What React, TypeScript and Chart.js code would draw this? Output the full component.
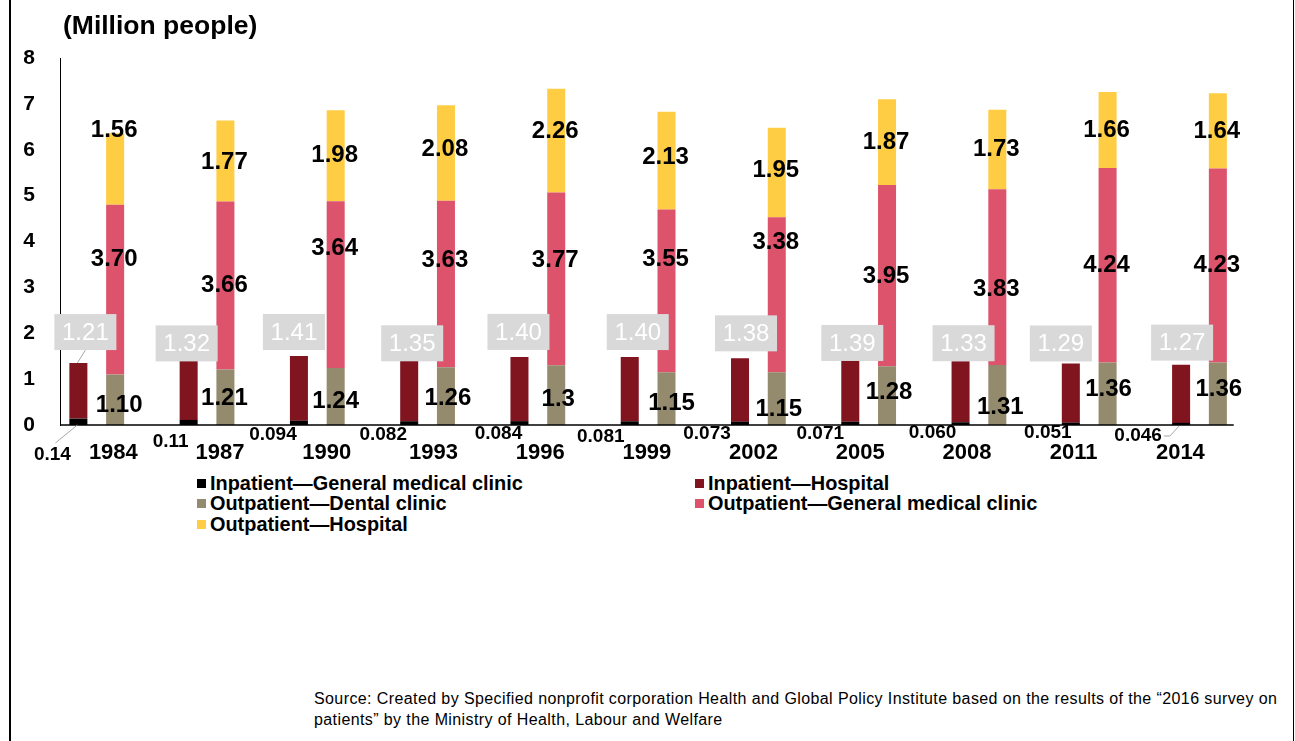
import React, { useEffect, useRef } from "react";
import { Chart, registerables } from "chart.js";

Chart.register(...registerables);

// ---------- data ----------
const years = ["1984", "1987", "1990", "1993", "1996", "1999", "2002", "2005", "2008", "2011", "2014"];
const inpatientClinic = [0.14, 0.11, 0.094, 0.082, 0.084, 0.081, 0.073, 0.071, 0.06, 0.051, 0.046];
const inpatientClinicText = ["0.14", "0.11", "0.094", "0.082", "0.084", "0.081", "0.073", "0.071", "0.060", "0.051", "0.046"];
const inpatientHospital = [1.21, 1.32, 1.41, 1.35, 1.4, 1.4, 1.38, 1.39, 1.33, 1.29, 1.27];
const outpatientDental = [1.1, 1.21, 1.24, 1.26, 1.3, 1.15, 1.15, 1.28, 1.31, 1.36, 1.36];
const outpatientDentalText = ["1.10", "1.21", "1.24", "1.26", "1.3", "1.15", "1.15", "1.28", "1.31", "1.36", "1.36"];
const outpatientClinic = [3.7, 3.66, 3.64, 3.63, 3.77, 3.55, 3.38, 3.95, 3.83, 4.24, 4.23];
const outpatientHospital = [1.56, 1.77, 1.98, 2.08, 2.26, 2.13, 1.95, 1.87, 1.73, 1.66, 1.64];
const yTickValues = [0, 1, 2, 3, 4, 5, 6, 7, 8];

const seriesNames = [
  "Inpatient\u2014General medical clinic",
  "Inpatient\u2014Hospital",
  "Outpatient\u2014Dental clinic",
  "Outpatient\u2014General medical clinic",
  "Outpatient\u2014Hospital",
];
const seriesColors = ["#000000", "#80141f", "#948a6d", "#de536c", "#ffcd43"];

// ---------- label placement tweaks (pixels, relative to bar geometry) ----------
// the category labels / axis line use a slightly narrower band than the bars
const LABEL_BAND_UNITS = 11.368;
const inHospBoxDx = [7, -2, -5, 3, -1, 8, 6, 2, 3, -10, 1];
const inHospBoxDy = [-31, -16, -24, -16, -25, -25, -25, -15, -18, -20, -22];
const inClinicDx = [-26, -18, -26, -26, -21, -29, -33, -30, -28, -23, -43];
const inClinicDy = [30, 17, 10, 10, 9, 12, 9, 9, 8, 8, 11];
const dentalDx = [4, -1, 0, 2, 2, 5, 2, 2, 3, 1, 1];
const dentalDy = [6, 1, 5, 2, 4, 5, 11, -3, 12, -4, -4];
const outClinicDy = [-30, 0, -36, -24, -19, -31, -52, 1, 12, 0, 0];
const outHospDy = [-39, 1, 0, -4, -9, -3, -2, 0, 0, 0, 0];

const FONT = '"Liberation Sans", Arial, Helvetica, sans-serif';

const annotatePlugin = {
  id: "annotate",
  afterDatasetsDraw(chart: any) {
    const { ctx } = chart;
    const xs = chart.scales.x;
    const yScale = chart.scales.y;
    const base = yScale.getPixelForValue(0);
    const unit = (xs.right - xs.left) / LABEL_BAND_UNITS;
    const labelX = (v: number) => xs.left + v * unit;
    ctx.save();

    // category axis line
    ctx.strokeStyle = "#000";
    ctx.lineWidth = 1.5;
    ctx.beginPath();
    ctx.moveTo(xs.left, base);
    ctx.lineTo(labelX(years.length), base);
    ctx.stroke();

    const txt = (s: string, x: number, y: number, font: string, color: string) => {
      ctx.font = font;
      ctx.fillStyle = color;
      ctx.textAlign = "center";
      ctx.textBaseline = "middle";
      ctx.fillText(s, x, y);
    };

    years.forEach((yr, i) => {
      txt(yr, labelX(i + 0.5), base + 28, `bold 22px ${FONT}`, "#000");
    });

    const mClinic = chart.getDatasetMeta(0).data;
    const mHosp = chart.getDatasetMeta(1).data;
    const mDental = chart.getDatasetMeta(2).data;
    const mOClinic = chart.getDatasetMeta(3).data;
    const mOHosp = chart.getDatasetMeta(4).data;
    const big = `bold 24px ${FONT}`;

    years.forEach((_, i) => {
      const h = mOHosp[i];
      txt(outpatientHospital[i].toFixed(2), h.x - 1, (h.y + h.base) / 2 + outHospDy[i], big, "#000");
      const c = mOClinic[i];
      txt(outpatientClinic[i].toFixed(2), c.x - 1, (c.y + c.base) / 2 + outClinicDy[i], big, "#000");
      const d = mDental[i];
      txt(outpatientDentalText[i], d.x + dentalDx[i], (d.y + d.base) / 2 + dentalDy[i], big, "#000");

      const ih = mHosp[i];
      const bx = ih.x + inHospBoxDx[i];
      const by = ih.y + inHospBoxDy[i];
      const bw = 62;
      const bh = 36;
      if (ih.y - (by + bh / 2) > 10) {
        ctx.strokeStyle = "#a6a6a6";
        ctx.lineWidth = 1;
        ctx.beginPath();
        ctx.moveTo(bx, by + bh / 2);
        ctx.lineTo(ih.x - 1, ih.y);
        ctx.stroke();
      }
      ctx.fillStyle = "#d9d9d9";
      ctx.fillRect(bx - bw / 2, by - bh / 2, bw, bh);
      txt(inpatientHospital[i].toFixed(2), bx, by + 1, `24px ${FONT}`, "#ffffff");

      const ic = mClinic[i];
      const lx = ic.x + inClinicDx[i];
      const ly = ic.base + inClinicDy[i];
      const sfont = `bold 19px ${FONT}`;
      txt(inpatientClinicText[i], lx, ly, sfont, "#000");
      const dist = Math.hypot(inClinicDx[i], inClinicDy[i]);
      if (dist > 38) {
        ctx.strokeStyle = "#a6a6a6";
        ctx.lineWidth = 1;
        ctx.beginPath();
        if (inClinicDy[i] > 20) {
          ctx.moveTo(lx + 3, ly - 12);
          ctx.lineTo(ic.x - 1, ic.base);
        } else {
          ctx.font = sfont;
          const w = ctx.measureText(inpatientClinicText[i]).width;
          ctx.moveTo(lx + w / 2 + 2, ly);
          ctx.lineTo(lx + w / 2 + 8, ly);
          ctx.lineTo(ic.x - 2, ic.base + 1);
        }
        ctx.stroke();
      }
    });
    ctx.restore();
  },
};

export default function App() {
  const canvasRef = useRef<HTMLCanvasElement | null>(null);

  useEffect(() => {
    if (!canvasRef.current) return;
    const mk = (idx: number, data: number[], stack: string) => ({
      label: seriesNames[idx],
      data,
      backgroundColor: seriesColors[idx],
      borderWidth: 0,
      stack,
      xAxisID: "x",
      yAxisID: "y",
      categoryPercentage: 1,
      barPercentage: 0.49,
    });
    const chart = new Chart(canvasRef.current, {
      type: "bar",
      data: {
        labels: years,
        datasets: [
          mk(0, inpatientClinic, "in"),
          mk(1, inpatientHospital, "in"),
          mk(2, outpatientDental, "out"),
          mk(3, outpatientClinic, "out"),
          mk(4, outpatientHospital, "out"),
          {
            label: "",
            data: years.map(() => null) as any,
            backgroundColor: "rgba(0,0,0,0)",
            stack: "gap",
            xAxisID: "x",
            yAxisID: "y",
            categoryPercentage: 1,
            barPercentage: 0.49,
          },
        ],
      },
      options: {
        responsive: false,
        animation: false,
        layout: { padding: { top: 58, right: 22, left: 0, bottom: 45 } },
        plugins: { legend: { display: false }, tooltip: { enabled: false }, title: { display: false } },
        scales: {
          x: { type: "category", display: false, stacked: true },
          y: {
            type: "linear",
            stacked: true,
            min: 0,
            max: 8,
            grid: { display: false, drawTicks: false },
            border: { display: true, color: "#000", width: 1 },
            ticks: {
              padding: 25,
              color: "#000",
              font: { family: FONT, size: 21, weight: "bold" },
              callback: (v: any) => String(v),
            },
            afterBuildTicks: (s: any) => {
              s.ticks = yTickValues.map((v) => ({ value: v }));
            },
            afterFit: (s: any) => {
              s.width = 60;
            },
          } as any,
        },
      },
      plugins: [annotatePlugin],
    });
    return () => chart.destroy();
  }, []);

  const legendItem = (idx: number, left: number, top: number) => (
    <div
      key={idx}
      style={{ position: "absolute", left, top, display: "flex", alignItems: "center", whiteSpace: "nowrap" }}
    >
      <span style={{ width: 9, height: 9, background: seriesColors[idx], display: "inline-block", marginRight: 4 }} />
      <span style={{ font: `bold 19.9px ${FONT}`, color: "#000", lineHeight: "20px" }}>{seriesNames[idx]}</span>
    </div>
  );

  return (
    <div style={{ position: "fixed", left: 0, top: 0, width: 1295, height: 741, background: "#fff", overflow: "hidden" }}>
      <div style={{ position: "absolute", left: 9, top: 0, width: 2, height: 741, background: "#000" }} />
      <div style={{ position: "absolute", left: 1293, top: 0, width: 1, height: 741, background: "#000" }} />
      <canvas ref={canvasRef} width={1295} height={470} style={{ position: "absolute", left: 0, top: 0, display: "block" }} />
      <div style={{ position: "absolute", left: 63, top: 9, font: `bold 26.5px ${FONT}`, color: "#000", lineHeight: "32px" }}>
        (Million people)
      </div>
      {legendItem(0, 197, 473)}
      {legendItem(1, 695, 473)}
      {legendItem(2, 197, 493)}
      {legendItem(3, 695, 493)}
      {legendItem(4, 197, 514)}
      <div
        style={{
          position: "absolute",
          left: 314,
          top: 688,
          width: 980,
          font: `16px ${FONT}`,
          letterSpacing: "0.4px",
          lineHeight: "21px",
          color: "#000",
          whiteSpace: "nowrap",
        }}
      >
        {"Source: Created by Specified nonprofit corporation Health and Global Policy Institute based on the results of the \u201c2016 survey on"}
        <br />
        {"patients\u201d by the Ministry of Health, Labour and Welfare"}
      </div>
    </div>
  );
}
